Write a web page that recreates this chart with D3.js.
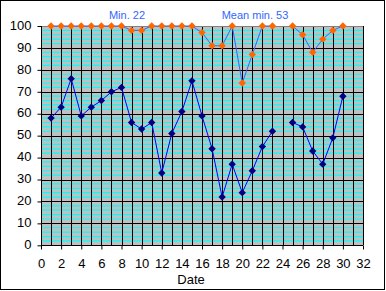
<!DOCTYPE html>
<html>
<head>
<meta charset="utf-8">
<script src="https://cdn.jsdelivr.net/npm/d3@7"></script>
<style>
html,body{margin:0;padding:0;background:#fff;}
svg{display:block;}
text{font-family:"Liberation Sans",Arial,sans-serif;}
</style>
</head>
<body>
<script>
const dates = d3.range(1, 31);
const minValues = [58,63,76,59,63,66,70,72,56,53,56,33,51,61,75,59,44,22,37,24,34,45,52,null,56,54,43,37,49,68];
const maxValues = [100,100,100,100,100,100,100,100,98,98,100,100,100,100,100,97,91,91,100,74,87,100,100,null,100,96,88,94,98,100];
const xTicks = d3.range(0, 33, 2);
const yTicks = d3.range(0, 101, 10);
const annotations = [{text:"Min. 22", x:127}, {text:"Mean min. 53", x:255}];

const W = 386, H = 291;
const svg = d3.select("body").append("svg").attr("width", W).attr("height", H);
svg.append("rect").attr("x",0.5).attr("y",0.5).attr("width",384).attr("height",289)
  .attr("fill","#fff").attr("stroke","#000").attr("stroke-width",1);

const x = d3.scaleLinear().domain([0,32]).range([41,363]);
const y = d3.scaleLinear().domain([0,100]).range([245.3,26]);

// plot background
svg.append("rect").attr("x",x(0)).attr("y",y(100)).attr("width",x(32)-x(0)).attr("height",y(0)-y(100))
  .attr("fill","#C0C0C0");

// minor horizontal gridlines (cyan)
const minor = d3.range(2, 100, 2).filter(v => v % 10 !== 0);
svg.append("g").selectAll("line").data(minor).join("line")
  .attr("x1",x(0)).attr("x2",x(32))
  .attr("y1",d=>y(d)).attr("y2",d=>y(d))
  .attr("stroke","#00FFFF").attr("stroke-width",1.2);

// major horizontal gridlines
svg.append("g").selectAll("line").data(yTicks.filter(v=>v>0)).join("line")
  .attr("x1",x(0)).attr("x2",x(32))
  .attr("y1",d=>Math.round(y(d))+0.5).attr("y2",d=>Math.round(y(d))+0.5)
  .attr("stroke","#000").attr("stroke-width",1);

// vertical gridlines every 1
svg.append("g").selectAll("line").data(d3.range(1,33)).join("line")
  .attr("y1",y(100)).attr("y2",y(0))
  .attr("x1",d=>Math.round(x(d))+0.5).attr("x2",d=>Math.round(x(d))+0.5)
  .attr("stroke","#000").attr("stroke-width",1);

// plot border top grey
svg.append("line").attr("x1",x(0)).attr("x2",x(32)).attr("y1",Math.round(y(100))+0.5).attr("y2",Math.round(y(100))+0.5)
  .attr("stroke","#808080");

// axes
const yAxis = d3.axisLeft(y).tickValues(yTicks).tickSize(4).tickPadding(6);
const gy = svg.append("g").attr("transform",`translate(${Math.round(x(0))+0.5},0)`).call(yAxis);
gy.selectAll("text").attr("font-size",13).attr("fill","#000").attr("font-family","Liberation Sans, Arial, sans-serif").attr("dy","0.25em");
gy.selectAll("line,path").attr("stroke","#000");
gy.select(".domain").attr("d",`M0,${y(100)}V${y(0)}`);

const xAxis = d3.axisBottom(x).tickValues(xTicks).tickSize(4).tickPadding(9);
const gx = svg.append("g").attr("transform",`translate(0,${Math.round(y(0))+0.5})`).call(xAxis);
gx.selectAll("text").attr("font-size",13).attr("fill","#000").attr("font-family","Liberation Sans, Arial, sans-serif");
gx.selectAll("line,path").attr("stroke","#000");
gx.select(".domain").attr("d",`M${x(0)},0H${x(32)}`);

svg.append("text").attr("x",191).attr("y",284).attr("text-anchor","middle")
  .attr("font-size",13).attr("fill","#000").text("Date");

// series
const line = d3.line().defined(d=>d[1]!=null).x(d=>x(d[0])).y(d=>y(d[1]));
const diamond = "M0,-3.7L3.7,0L0,3.7L-3.7,0Z";

const maxData = dates.map((d,i)=>[d,maxValues[i]]);
const minData = dates.map((d,i)=>[d,minValues[i]]);

svg.append("path").datum(maxData).attr("d",line).attr("fill","none").attr("stroke","#3366FF").attr("stroke-width",1);
svg.append("g").selectAll("path").data(maxData.filter(d=>d[1]!=null)).join("path")
  .attr("d",diamond).attr("transform",d=>`translate(${x(d[0])},${y(d[1])})`).attr("fill","#FF6600");

svg.append("path").datum(minData).attr("d",line).attr("fill","none").attr("stroke","#0000FF").attr("stroke-width",1);
svg.append("g").selectAll("path").data(minData.filter(d=>d[1]!=null)).join("path")
  .attr("d",diamond).attr("transform",d=>`translate(${x(d[0])},${y(d[1])})`).attr("fill","#000080");

// annotations
svg.append("g").selectAll("text").data(annotations).join("text")
  .attr("x",d=>d.x).attr("y",19).attr("text-anchor","middle")
  .attr("font-size",11).attr("fill","#3366FF").text(d=>d.text);
</script>
</body>
</html>
